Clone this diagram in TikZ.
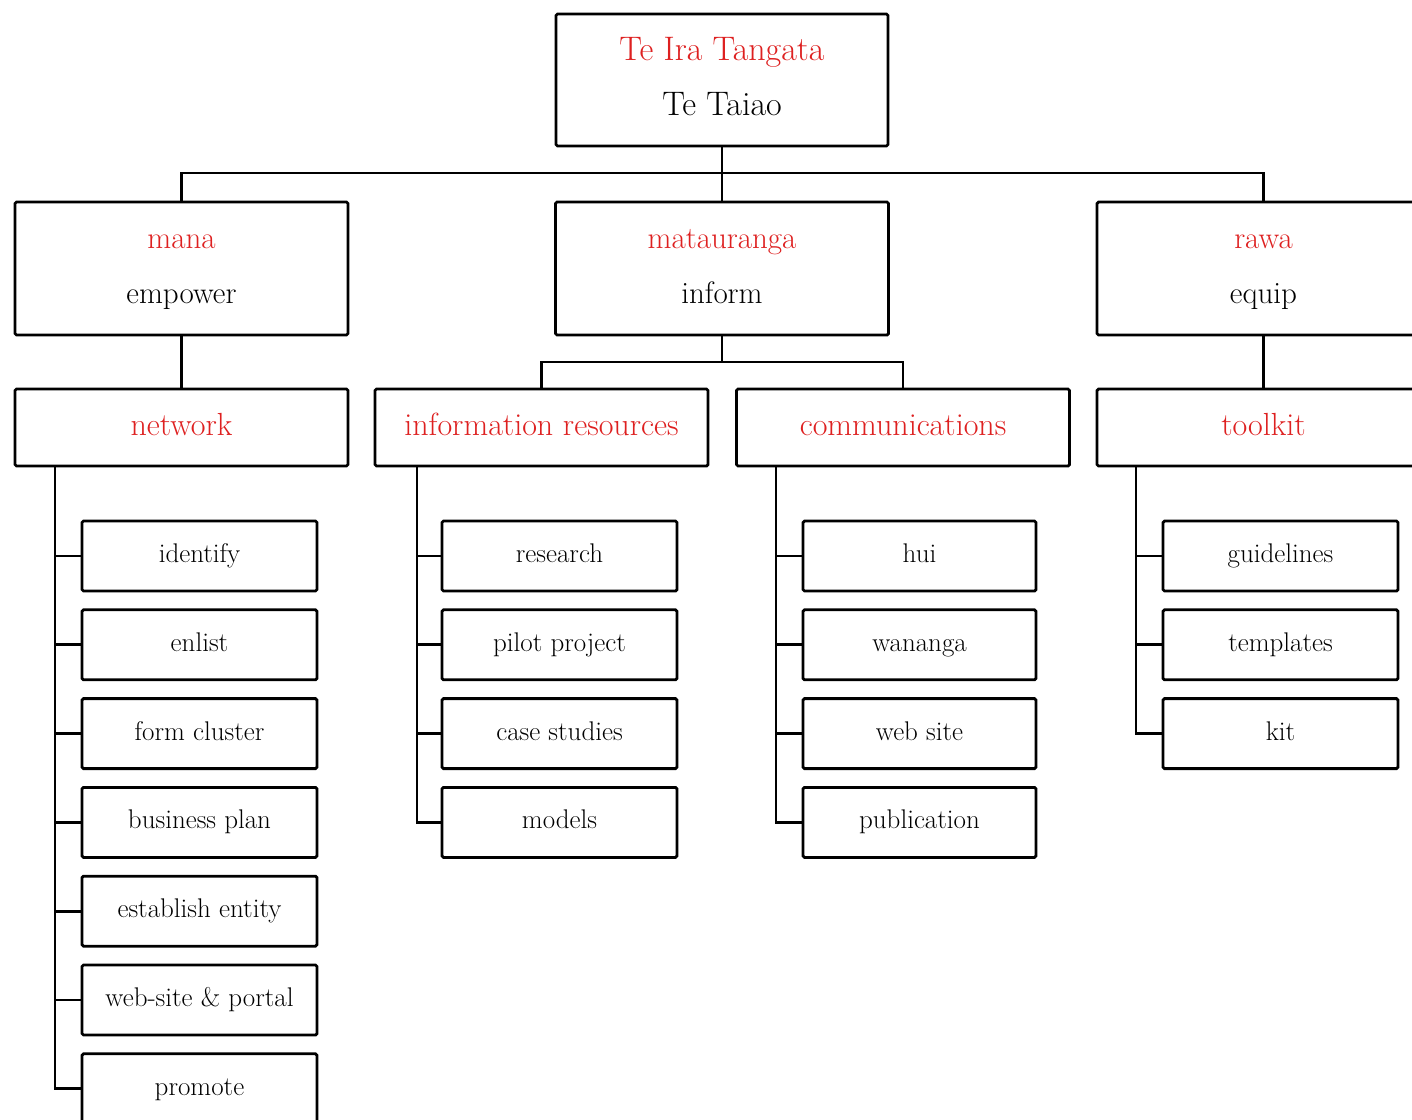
\documentclass[tikz,border=0pt]{standalone}
\definecolor{lred}{RGB}{222,32,32}
\newcommand{\lstrut}{\vphantom{Tgpf}}
\tikzset{
  box/.style={draw=black, line width=2.8pt, rounded corners=1.5pt, fill=white, inner sep=0pt, align=center},
  topbox/.style={box, minimum width=332, minimum height=132, font=\fontsize{34}{55}\selectfont},
  midbox/.style={box, minimum width=333, minimum height=133, font=\fontsize{31}{55}\selectfont},
  catbox/.style={box, minimum width=333, minimum height=77, font=\fontsize{32}{38}\selectfont, text=lred, text height=23, text depth=8},
  leafbox/.style={box, minimum width=235, minimum height=70, font=\fontsize{27}{32}\selectfont, text height=20, text depth=7},
  conn/.style={line width=2.8pt, line cap=rect},
}
\begin{document}
\begin{tikzpicture}[x=1pt,y=-1pt]
\useasboundingbox (0,0) rectangle (1412,1119);
\clip (0,0) rectangle (1412,1119);
\fill[white] (0,0) rectangle (1412,1119);

% top
\node[topbox] (top) at (722,80) {\textcolor{lred}{\lstrut Te Ira Tangata}\\\lstrut Te Taiao};

% level 2
\node[midbox] (mana) at (181.5,268.5) {\textcolor{lred}{\lstrut mana}\\\lstrut empower};
\node[midbox] (mat) at (722,268.5) {\textcolor{lred}{\lstrut matauranga}\\\lstrut inform};
\node[midbox] (rawa) at (1263.5,268.5) {\textcolor{lred}{\lstrut rawa}\\\lstrut equip};

% level 3
\node[catbox] (net) at (181.5,427.5) {network};
\node[catbox] (info) at (541.5,427.5) {information resources};
\node[catbox] (comm) at (903,427.5) {communications};
\node[catbox] (tool) at (1263.5,427.5) {toolkit};

% bus lines
\coordinate (bus) at (722,173);
\draw[conn] (top.south) -- (mat.north);
\draw[conn] (mana.north) |- (bus) -| (rawa.north);
\draw[conn] (mana.south) -- (net.north);
\draw[conn] (rawa.south) -- (tool.north);
\coordinate (bus2) at (722,362);
\draw[conn] (mat.south) -- (bus2);
\draw[conn] (info.north) |- (bus2) -| (comm.north);

% network children
\foreach \i/\t in {1/identify,2/enlist,3/form cluster,4/business plan,5/establish entity,6/web-site \& portal,7/promote}{
  \node[leafbox] (n\i) at (199.5,{556+88.8*(\i-1)}) {\t};
  \draw[conn] (55,466) |- (n\i.west);
}
% info children
\foreach \i/\t in {1/research,2/pilot project,3/case studies,4/models}{
  \node[leafbox] (r\i) at (559.5,{556+88.8*(\i-1)}) {\t};
  \draw[conn] (417,466) |- (r\i.west);
}
% comm children
\foreach \i/\t in {1/hui,2/wananga,3/web site,4/publication}{
  \node[leafbox, minimum width=233] (c\i) at (919.5,{556+88.8*(\i-1)}) {\t};
  \draw[conn] (776,466) |- (c\i.west);
}
% toolkit children
\foreach \i/\t in {1/guidelines,2/templates,3/kit}{
  \node[leafbox] (t\i) at (1280.5,{556+88.8*(\i-1)}) {\t};
  \draw[conn] (1136,466) |- (t\i.west);
}
\end{tikzpicture}
\end{document}
